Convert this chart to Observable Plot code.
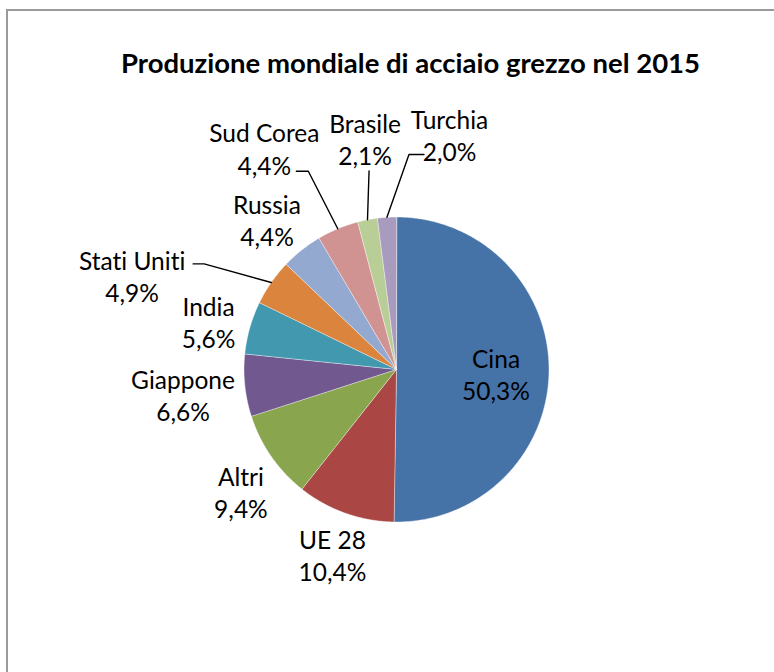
<!DOCTYPE html>
<html>
<head>
<meta charset="utf-8">
<script src="https://cdn.jsdelivr.net/npm/d3@7"></script>
<script src="https://cdn.jsdelivr.net/npm/@observablehq/plot@0.6"></script>
<style>
  html, body { margin: 0; padding: 0; background: #fff; overflow: hidden; }
  #wrap { position: relative; width: 774px; height: 672px; overflow: hidden; }
  #border { position: absolute; left: 6px; top: 9px; width: 900px; height: 900px;
            border-left: 2px solid #9a9a9a; border-top: 2px solid #9a9a9a; pointer-events: none; }
  #chart { position: absolute; left: 0; top: 0; }
  #chart svg text { font-variant-ligatures: none; font-feature-settings: "liga" 0; }
</style>
</head>
<body>
<div id="wrap"><div id="border"></div><div id="chart"></div></div>
<script>
// ---- data ----
const title = "Produzione mondiale di acciaio grezzo nel 2015";
const categories = ["Cina", "UE 28", "Altri", "Giappone", "India", "Stati Uniti", "Russia", "Sud Corea", "Brasile", "Turchia"];
const shares = [50.3, 10.4, 9.4, 6.6, 5.6, 4.9, 4.4, 4.4, 2.1, 2.0];

// ---- styles ----
const palette = ["#4572A7", "#AA4643", "#89A54E", "#71588F", "#4198AF", "#DB843D", "#93A9CF", "#D19392", "#B9CD96", "#A99BBD"];
const FONT = "Lato, 'Open Sans', sans-serif";

// ---- layout ----
const W = 774, H = 672;
const CX = 396, CY = 369, R = 152.5;
// label placement relative to slice mid-angle: [angle shift (deg), radius factor]
const labelPlace = {
  "Cina": [1.8, 0.653], "UE 28": [-0.5, 1.283], "Altri": [-3.4, 1.298], "Giappone": [-0.8, 1.41],
  "India": [-1.6, 1.272], "Stati Uniti": [-15.2, 1.84], "Russia": [-2.3, 1.30],
  "Sud Corea": [-8.2, 1.69], "Brasile": [3.2, 1.525], "Turchia": [16.3, 1.58]
};
// leader line start (offset from label centre) and horizontal elbow length
const leaderPlace = {
  "Stati Uniti": {dx: 61, dy: -11.5, elbow: 11},
  "Sud Corea": {dx: 32, dy: 23, elbow: 12},
  "Brasile": {dx: 4, dy: 32, elbow: 0},
  "Turchia": {dx: -25.5, dy: 20, elbow: -15}
};

const fmt = v => v.toFixed(1).replace(".", ",") + "%";
const total = d3.sum(shares);
const polar = (a, rr) => [CX + rr * Math.sin(a), CY - rr * Math.cos(a)];

let acc = 0;
const slices = categories.map((name, i) => {
  const a0 = acc / total * 2 * Math.PI;
  acc += shares[i];
  const a1 = acc / total * 2 * Math.PI;
  return {name, value: shares[i], a0, a1, mid: (a0 + a1) / 2};
});

const wedgePts = slices.flatMap(s => {
  const n = Math.max(2, Math.ceil((s.a1 - s.a0) / (Math.PI / 360)));
  const pts = [{name: s.name, x: CX, y: CY}];
  for (let k = 0; k <= n; k++) {
    const [x, y] = polar(s.a0 + (s.a1 - s.a0) * k / n, R);
    pts.push({name: s.name, x, y});
  }
  return pts;
});

const labels = slices.map(s => {
  const [shift, rf] = labelPlace[s.name];
  const [x, y] = polar(s.mid + shift * Math.PI / 180, R * rf);
  return {name: s.name, x, y, text: s.name + "\n" + fmt(s.value)};
});

const leaders = labels.filter(l => leaderPlace[l.name]).flatMap(l => {
  const p = leaderPlace[l.name];
  const s = slices.find(d => d.name === l.name);
  const [ex, ey] = polar(s.mid, R);
  const sx = l.x + p.dx, sy = l.y + p.dy;
  return [
    {name: l.name, x: sx, y: sy},
    {name: l.name, x: sx + p.elbow, y: sy},
    {name: l.name, x: ex, y: ey}
  ];
});

const chart = Plot.plot({
  width: W, height: H,
  margin: 0,
  style: {background: "transparent", fontFamily: FONT, overflow: "visible"},
  x: {domain: [0, W], range: [0, W], axis: null},
  y: {domain: [0, H], range: [0, H], axis: null},
  color: {domain: categories, range: palette},
  marks: [
    Plot.line(wedgePts, {x: "x", y: "y", z: "name", fill: "name", curve: "linear-closed",
      stroke: "#ffffff", strokeWidth: 0.7, strokeOpacity: 0.6}),
    Plot.line(leaders, {x: "x", y: "y", z: "name", stroke: "#000", strokeWidth: 1.4, curve: "linear"}),
    Plot.text(labels, {x: "x", y: "y", text: "text", fontSize: 24.5, lineHeight: 1.31,
      textAnchor: "middle", lineAnchor: "middle", fill: "#000", fontFamily: FONT}),
    Plot.text([title], {frameAnchor: "top", dx: 23, dy: 64, lineAnchor: "middle",
      fontSize: 27.5, fontWeight: "bold", fill: "#000", fontFamily: FONT})
  ]
});
document.getElementById("chart").appendChild(chart);
</script>
</body>
</html>
